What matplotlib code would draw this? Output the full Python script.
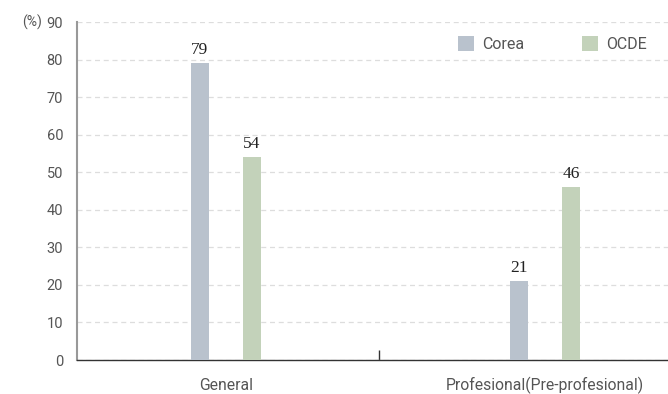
import matplotlib
matplotlib.use("Agg")
import matplotlib.pyplot as plt
import numpy as np

categories = ["General", "Profesional(Pre-profesional)"]
series_names = ["Corea", "OCDE"]
corea = [79, 21]
ocde = [54, 46]
yticks = [0, 10, 20, 30, 40, 50, 60, 70, 80, 90]

colors = ["#b9c2cd", "#c3d2ba"]

fig = plt.figure(figsize=(6.68, 3.94), dpi=100)
ax = fig.add_axes([77/668, 1-360/394, 1-77/668, (360-22)/394])

x = np.arange(len(categories))
off = 0.0815
w = 0.056
b1 = ax.bar(x - off, corea, w, color=colors[0], label=series_names[0], zorder=3)
b2 = ax.bar(x + off, ocde, w, color=colors[1], label=series_names[1], zorder=3)

for bars in (b1, b2):
    for r in bars:
        ax.text(r.get_x() + r.get_width()/2, r.get_height() + 1.4, f"{int(r.get_height())}",
                ha="center", va="bottom", fontsize=12.5, family="Liberation Serif", color="#222222")

ax.set_xlim(-0.467, 1.386)
ax.set_ylim(0, 90)
ax.set_yticks(yticks)
ax.set_yticklabels([str(t) for t in yticks], fontsize=10.5, color="#555555", family="Roboto")
ax.tick_params(axis="y", length=0, pad=10)
ax.set_xticks([0.48])
ax.set_xticklabels([""])
ax.tick_params(axis="x", direction="in", length=7, color="#333333", width=1)
for xi, c in zip(x, categories):
    ax.text(xi, -0.074, c, transform=ax.get_xaxis_transform(), ha="center", va="center",
            fontsize=11.3, color="#555555", family="Roboto")

ax.yaxis.grid(True, linestyle=(0, (4, 3)), color="#dddddd", linewidth=0.9, zorder=0)
ax.set_axisbelow(True)
for s in ["top", "right"]:
    ax.spines[s].set_visible(False)
ax.spines["left"].set_color("#999999")
ax.spines["left"].set_linewidth(1.5)
ax.spines["bottom"].set_color("#333333")
ax.spines["bottom"].set_linewidth(1.0)

ax.text(-0.06, 1.0, "(%)", transform=ax.transAxes, ha="right", va="center",
        fontsize=10, color="#555555", family="Roboto")

leg = ax.legend(loc="upper right", ncol=2, frameon=False, fontsize=11.5,
                bbox_to_anchor=(0.988, 1.0), handlelength=1.0, handleheight=1.0,
                columnspacing=3.6, handletextpad=0.5)
for t in leg.get_texts():
    t.set_color("#555555")
    t.set_family("Roboto")

fig.savefig("out.png", dpi=100)
